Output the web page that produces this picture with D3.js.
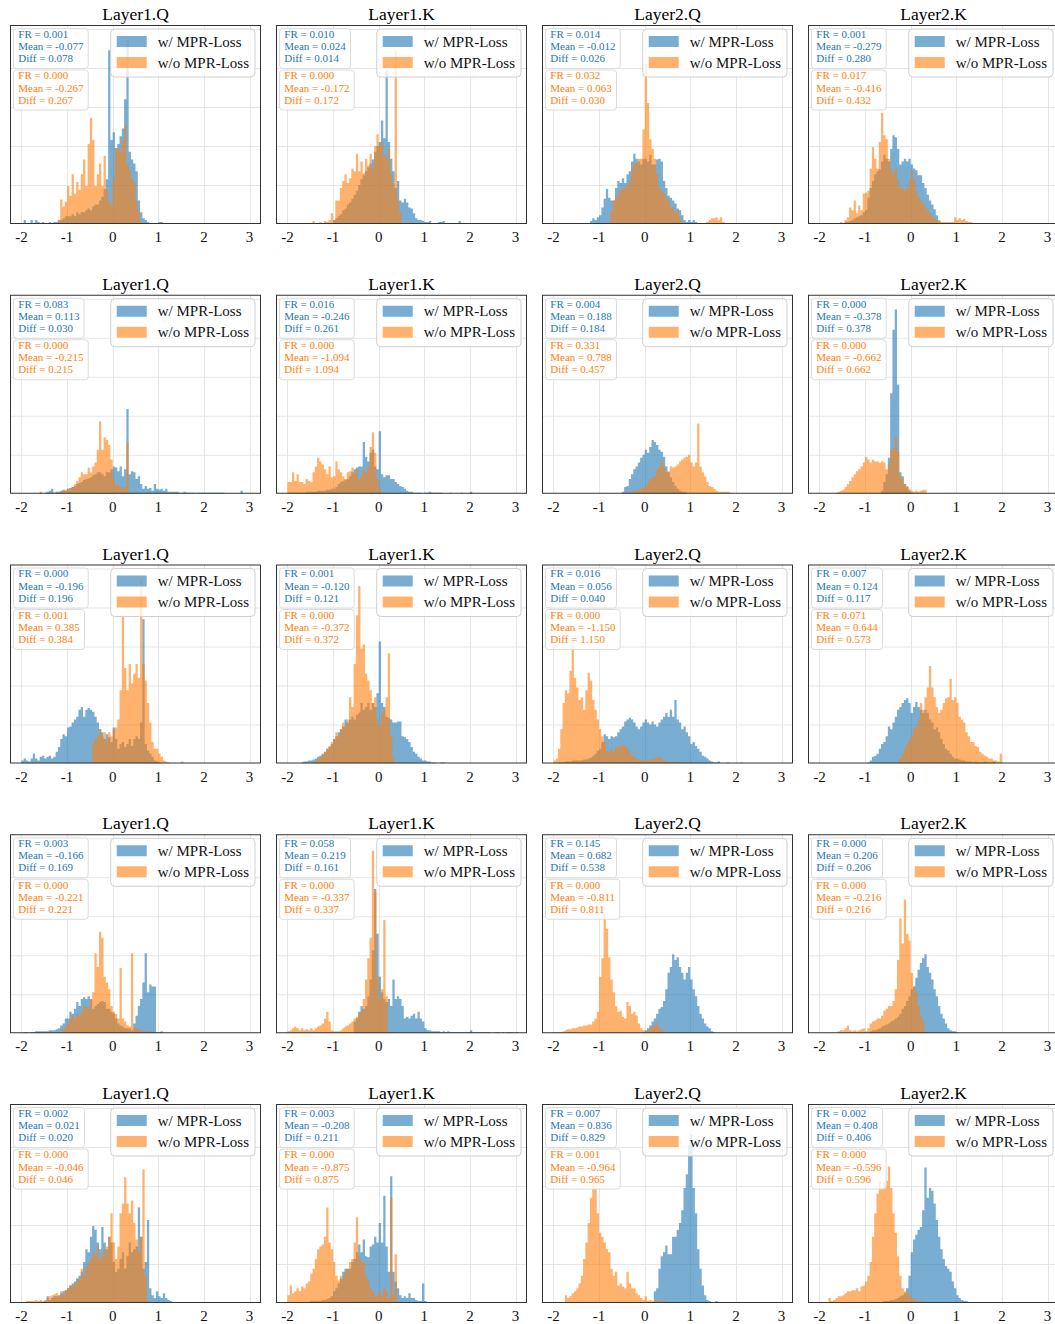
<!DOCTYPE html>
<html>
<head>
<meta charset="utf-8">
<script src="https://cdn.jsdelivr.net/npm/d3@7"></script>
<style>
  body { margin: 0; background: #ffffff; }
  svg text { font-family: "Liberation Serif", "Times New Roman", serif; }
</style>
</head>
<body>
<svg id="chart" width="1055" height="1324"></svg>
<script>
// ---- data -------------------------------------------------------------
const panelTitles = [
  "Layer1.Q", "Layer1.K", "Layer2.Q", "Layer2.K",
  "Layer1.Q", "Layer1.K", "Layer2.Q", "Layer2.K",
  "Layer1.Q", "Layer1.K", "Layer2.Q", "Layer2.K",
  "Layer1.Q", "Layer1.K", "Layer2.Q", "Layer2.K",
  "Layer1.Q", "Layer1.K", "Layer2.Q", "Layer2.K"
];
const seriesLabels = ["w/ MPR-Loss", "w/o MPR-Loss"];
const xTicks = [-2, -1, 0, 1, 2, 3];
const yTicks = [40, 80, 120, 160, 200];
const yMax = 204;          // shared count axis for every panel
const binWidth = 0.05;

// left edge of the first bin of each histogram
const withStart = [-1.95, -1.0, -1.2, -1.45, -1.6, -2.0, -0.5, -0.65, -2.0, -1.7, -1.9, -0.95, -1.95, -0.55, -0.05, -0.9, -1.5, -1.9, 0.2, -0.6];
const withoutStart = [-1.2, -1.45, -0.75, -1.55, -1.6, -2.0, -0.35, -1.65, -0.45, -1.4, -2.0, -0.3, -1.1, -2.0, -2.0, -1.6, -2.0, -2.0, -1.75, -1.8];

// bin counts, "w/ MPR-Loss"
const withCounts = [
  [4,0,0,4,0,4,2,0,2,0, 0,2,0,2,2,4,4,6,8,8, 8,10,8,12,10,12,12,14,16,14, 18,20,20,24,28,36,46,178,86,94, 78,82,90,98,128,189,74,66,62,54, 24,12,6,4,2,0,0,0,0,2, 2],
  [4,6,8,10,14,16,20,22,26,30, 34,40,46,50,54,58,62,66,74,80, 84,106,88,157,84,67,54,37,44,24, 22,26,22,17,16,11,6,4,4,3, 2,2,3,1,1,1,2,2,3,0, 0,1,0,0,0,3],
  [3,6,4,7,9,17,26,36,27,24, 24,37,44,42,47,42,51,54,64,72, 67,64,61,67,67,64,71,61,61,66, 67,64,44,37,29,27,24,21,16,14, 9,4,2,4,2,4,2,1,1,1, 0,1,0,0,1,0,0,0,1,0, 0,0,0,0,0,1,0,0,0,0, 0,0,0,0,0,0,1],
  [2,2,3,4,6,7,8,9,12,14, 27,37,44,51,54,56,64,71,67,64, 77,91,89,77,61,64,67,64,67,61, 57,55,50,50,42,37,30,24,20,15, 9,3,1],
  [1,0,1,2,3,5,1,2,2,3, 4,3,5,6,7,8,10,11,12,14, 15,16,17,19,20,22,22,20,18,22, 22,25,28,27,23,28,18,25,87,20, 23,22,15,18,10,5,8,5,6,3, 10,5,4,5,3,5,2,2,2,2, 2,1,1,2,1,1,1,1,0,1, 1,1,1,1,1,1,1,1,1,1, 1,0,0,0,0,0,0,0,3],
  [1,1,1,1,1,1,1,1,2,2, 2,2,2,3,3,3,3,4,4,5, 5,7,10,12,13,14,15,18,22,25, 27,28,28,53,38,33,42,45,28,25, 64,20,17,19,19,15,15,12,10,8, 7,5,3,2,2,1,1,1,1,0, 1,1,2,1,1,1,1,1,0,0, 0,1,0,0,0,0,1,0,0,0, 2],
  [2,7,8,15,20,25,28,32,37,40, 45,42,48,55,53,50,45,43,38,28, 22,17,12,8,5,3,2,2,1],
  [3,12,20,37,103,168,189,112,22,18,10,7,3,1],
  [3,5,3,2,5,10,5,3,7,8, 5,7,8,5,7,12,17,25,30,28, 37,38,42,45,48,55,58,48,55,57, 55,53,48,42,35,32,25,30,27,22, 37,25,15,20,22,17,20,25,18,25, 28,25,42,148,20,13,10,7,3,2, 1],
  [1,2,2,3,3,4,5,7,8,10, 12,15,17,20,25,28,32,35,38,45, 42,45,48,45,50,52,62,55,58,62, 55,62,58,72,125,62,58,48,47,45, 42,42,43,43,28,27,25,22,17,12, 10,7,5,3,3,2,2,1,1,0, 0,1,1],
  [1,1,1,2,2,2,3,3,3,3, 3,4,4,5,6,8,10,13,15,22, 30,28,25,28,27,28,32,35,38,43, 45,47,45,42,38,35,38,42,45,42, 40,43,40,38,42,45,48,52,48,55, 48,65,45,42,35,38,32,28,20,22, 18,15,12,8,7,5,3,2,1,1, 2,0,0,0,1,0,0,0,0,0, 1],
  [1,3,7,8,10,15,20,22,28,38, 35,42,48,55,58,62,65,67,62,52, 58,63,58,55,52,55,52,45,42,35, 37,32,25,20,15,13,10,7,5,5, 4,3,3,2,2,2,1,2,1,1, 1,2,1,1,1,2],
  [1,1,0,1,1,2,2,2,2,2, 2,3,3,3,4,5,8,10,15,15, 22,20,25,32,28,35,37,35,38,35, 25,28,30,32,33,32,25,25,22,20, 15,10,8,7,5,5,5,3,10,18, 28,35,52,82,42,50,48,48,1,1, 2],
  [12,15,22,28,25,28,38,55,85,148, 102,58,42,35,32,35,28,55,35,38, 35,28,15,17,15,18,20,15,22,15, 12,5,3,3,2,2,2,2,1,2, 1,2,1,1,1,1,1,1,1,1, 1,3,1,1,1,1,1,1,1,1, 0,0,1,1,0,1,0,1,1,1, 0,1],
  [1,3,5,8,12,15,20,25,27,33, 45,62,68,81,75,78,68,62,55,62, 68,55,45,38,28,20,15,10,7,5, 2,1],
  [2,3,3,4,5,7,8,9,10,12, 13,15,17,20,25,28,33,38,45,48, 57,65,72,77,81,68,62,55,45,38, 28,20,15,10,5,3,2,2,1],
  [2,7,3,5,7,7,8,10,12,13, 15,18,20,22,25,28,32,42,55,52, 68,79,75,62,55,78,62,55,68,62, 42,32,35,45,52,35,48,62,52,55, 58,98,68,35,42,85,15,8,5,12, 7,5,10,5,3,2,1,1],
  [1,0,1,1,1,1,1,1,2,2, 2,2,2,3,3,4,5,7,12,15, 20,25,32,35,35,35,42,45,52,60, 52,65,48,47,58,60,68,62,82,62, 110,58,32,130,32,22,15,8,5,7, 5,10,5,5,3,2,2,20,2,1, 1,1,1,1,1,0,0,0,0,1, 0,0,0,1,1],
  [12,15,35,48,52,59,50,50,68,68, 75,82,95,118,132,162,173,118,92,55, 35,18,8,3,2,0,1,2],
  [2,2,2,3,3,4,5,7,8,10, 15,28,52,65,70,75,78,95,139,108, 118,115,102,85,68,55,45,38,35,32, 22,15,8,5,3,2,2,1,1,0, 0,0,0,0,0,0,0,1]
];

// bin counts, "w/o MPR-Loss"
const withoutCounts = [
  [4,25,18,23,39,29,51,31,43,35, 51,66,39,82,109,86,39,51,62,39, 70,35,23,20,47,78,78,74,86,101, 62,55,47,43,23,12,2],
  [3,0,0,2,0,3,2,4,11,4, 24,24,37,44,51,42,47,57,54,72, 54,64,52,67,60,72,57,80,92,80, 84,70,67,77,51,41,178,24,11,1],
  [13,24,27,31,34,37,37,39,44,56, 62,62,67,67,97,164,124,87,77,67, 51,37,34,31,27,24,17,17,11,14, 7,2,1,1,0,0,1,0,0,0, 1,1,2,4,6,6,7,4,7,2, 0,1,1,1,1,1,0,1],
  [2,0,4,7,17,14,24,11,19,14, 31,32,34,57,79,67,57,84,114,91, 87,67,57,51,57,44,37,37,34,37, 44,54,44,34,27,24,21,17,14,11, 7,6,4,4,2,2,2,2,2,2, 7,4,6,4,5,3,2,2,1,0, 0,0,1,1,1,1,1],
  [2,0,0,0,1,0,1,1,2,2, 3,4,5,6,7,10,13,17,22,20, 20,27,22,28,32,45,74,45,58,55, 50,35,15,10,8,7,5,7,52],
  [12,12,22,13,20,12,12,10,15,13, 12,22,28,37,33,30,25,20,28,17, 18,33,25,22,18,15,22,23,27,20, 25,15,18,25,22,28,48,63,42,15, 5],
  [1,2,3,3,4,5,6,8,12,15, 17,18,25,28,33,28,22,23,28,27, 28,30,33,35,37,38,40,32,28,32, 72,28,22,18,12,8,7,5,3,2, 2,2,2,2,1],
  [1,2,3,4,7,10,13,17,20,23, 25,28,32,38,35,32,35,33,33,32, 33,32,25,30,45,47,58,43,18,15, 10,8,5,3,2,3,2,3,4,4],
  [20,25,28,35,28,32,23,32,28,35, 37,45,75,152,98,75,102,82,92,102, 88,188,102,85,62,42,22,15,15,10, 7,3,2,1,0,0,0,0,0,2],
  [2,5,7,9,12,15,18,22,25,32, 28,35,42,38,45,68,58,102,152,182, 118,122,92,85,75,62,68,45,38,52, 55,68,113,28,5],
  [3,5,15,35,62,75,72,95,122,88, 78,65,68,55,75,93,85,65,55,45, 35,28,22,13,12,15,12,17,17,18, 20,18,15,12,8,7,5,4,3,3, 3,4,3,4,5,6,7,5,3,2, 2,1,2,1,1,1,1,1,1,1, 1],
  [2,5,10,15,20,25,28,35,38,45, 62,55,68,78,100,78,68,58,52,55, 62,67,68,87,65,68,62,48,45,42, 32,28,22,22,18,17,12,10,8,7, 5,5,3,3,2,10],
  [5,7,10,15,18,15,20,18,22,28, 27,25,35,42,82,68,104,98,58,52, 45,28,22,20,15,67,15,12,8,7, 82,5,5,4,3,2,2,2,2,2],
  [2,3,5,7,5,3,5,3,4,3, 5,3,5,7,8,10,15,22,12,3, 2,2,2,3,5,7,8,10,12,15, 17,20,22,35,55,77,98,187,145,58, 35,45,116,38],
  [1,1,1,1,2,3,4,4,5,5, 6,7,7,8,8,9,9,12,15,22, 58,77,122,107,78,55,42,28,22,23, 17,15,32,28,20,22,18,10,5,3, 2,3,5,7,8,10,6,3,2],
  [2,3,3,5,8,3,2,3,2,3, 4,5,2,5,10,12,13,15,15,18, 23,25,28,28,33,45,75,118,92,137, 102,95,62,48,42,28,18,12,2],
  [1,1,2,2,2,2,3,2,3,2, 3,5,7,8,9,10,7,12,8,13, 15,18,17,20,25,22,35,28,37,42, 45,52,48,58,45,48,55,58,68,92, 62,45,58,92,102,129,102,92,105,82, 65,52,68,137,28,2],
  [8,18,10,12,15,12,17,15,20,22, 30,35,45,55,58,60,68,98,62,55, 42,28,23,28,25,32,35,42,45,62, 88,48,42,42,28,22,15,12,8,7, 12,8,15,12,5,108,8,50],
  [8,5,7,10,12,15,20,28,45,62, 82,108,123,117,92,72,68,62,55,52, 35,28,32,18,20,17,15,32,20,15, 15,10,8,5,3,7,2,3,2,3, 2,2,2,2,2,1,0,0,0,0, 0,0,0,0,0,0,0,0,0,0, 0,0,0,0,0,0,0,0,0,1],
  [5,2,3,5,7,7,8,10,12,12, 13,13,15,12,17,18,22,28,42,68, 92,112,125,118,123,125,140,118,92,72, 48,28,15,12,12,8,5,3,2,2, 2,2,1]
];

// [FR, Mean, Diff] for each panel
const withStats = [
  [0.001, -0.077, 0.078], [0.010, 0.024, 0.014], [0.014, -0.012, 0.026], [0.001, -0.279, 0.280],
  [0.083, 0.113, 0.030], [0.016, -0.246, 0.261], [0.004, 0.188, 0.184], [0.000, -0.378, 0.378],
  [0.000, -0.196, 0.196], [0.001, -0.120, 0.121], [0.016, 0.056, 0.040], [0.007, 0.124, 0.117],
  [0.003, -0.166, 0.169], [0.058, 0.219, 0.161], [0.145, 0.682, 0.538], [0.000, 0.206, 0.206],
  [0.002, 0.021, 0.020], [0.003, -0.208, 0.211], [0.007, 0.836, 0.829], [0.002, 0.408, 0.406]
];
const withoutStats = [
  [0.000, -0.267, 0.267], [0.000, -0.172, 0.172], [0.032, 0.063, 0.030], [0.017, -0.416, 0.432],
  [0.000, -0.215, 0.215], [0.000, -1.094, 1.094], [0.331, 0.788, 0.457], [0.000, -0.662, 0.662],
  [0.001, 0.385, 0.384], [0.000, -0.372, 0.372], [0.000, -1.150, 1.150], [0.071, 0.644, 0.573],
  [0.000, -0.221, 0.221], [0.000, -0.337, 0.337], [0.000, -0.811, 0.811], [0.000, -0.216, 0.216],
  [0.000, -0.046, 0.046], [0.000, -0.875, 0.875], [0.001, -0.964, 0.965], [0.000, -0.596, 0.596]
];

// ---- layout & style ------------------------------------------------------
const nCols = 4;
const axLeft0 = 10, colStep = 266, axW = 251;
const axTop0 = 25, rowStep = 269.75, axH = 199;
const colors = ["#1f77b4", "#ff7f0e"];
const barAlpha = 0.6;

const svg = d3.select("#chart");
const x = d3.scaleLinear().domain([-2.25, 3.25]).range([0, axW]);
const y = d3.scaleLinear().domain([0, yMax]).range([axH, 0]);
const fmt = v => v.toFixed(3);

const area = d3.area()
  .x(d => x(d.x0))
  .y0(axH)
  .y1(d => y(d.v))
  .curve(d3.curveStepAfter);

panelTitles.forEach((title, i) => {
  const r = Math.floor(i / nCols), c = i % nCols;
  const g = svg.append("g")
    .attr("transform", `translate(${axLeft0 + c * colStep},${axTop0 + r * rowStep})`);

  const series = [
    { start: withStart[i], counts: withCounts[i], stats: withStats[i], color: colors[0] },
    { start: withoutStart[i], counts: withoutCounts[i], stats: withoutStats[i], color: colors[1] }
  ];

  // clip region for the plotting area
  const clipId = `clip-${i}`;
  g.append("clipPath").attr("id", clipId)
    .append("rect").attr("width", axW).attr("height", axH);

  // grid
  const grid = g.append("g").attr("stroke", "#e6e6e6").attr("stroke-width", 1);
  grid.selectAll("line.v").data(xTicks).join("line")
    .attr("class", "v")
    .attr("x1", d => Math.round(x(d)) + 0.5).attr("x2", d => Math.round(x(d)) + 0.5)
    .attr("y1", 0).attr("y2", axH);
  grid.selectAll("line.h").data(yTicks).join("line")
    .attr("class", "h")
    .attr("x1", 0).attr("x2", axW)
    .attr("y1", d => Math.round(y(d)) + 0.5).attr("y2", d => Math.round(y(d)) + 0.5);

  // histograms (blue first, orange on top)
  const plot = g.append("g").attr("clip-path", `url(#${clipId})`);
  series.forEach(s => {
    const pts = s.counts.map((v, k) => ({ x0: s.start + k * binWidth, v }));
    pts.push({ x0: s.start + s.counts.length * binWidth, v: 0 });
    plot.append("path")
      .attr("d", area(pts))
      .attr("fill", s.color)
      .attr("fill-opacity", barAlpha);
  });

  // frame
  g.append("rect")
    .attr("x", 0.5).attr("y", 0.5).attr("width", axW - 1).attr("height", axH - 1)
    .attr("fill", "none").attr("stroke", "#333").attr("stroke-width", 1);

  // x tick labels
  g.selectAll("text.tick").data(xTicks).join("text")
    .attr("class", "tick")
    .attr("x", d => x(d)).attr("y", axH + 18)
    .attr("text-anchor", "middle")
    .attr("font-size", 15).attr("fill", "#111")
    .text(d => String(d));

  // title
  g.append("text")
    .attr("x", axW / 2).attr("y", -5)
    .attr("text-anchor", "middle")
    .attr("font-size", 17.5).attr("fill", "#000")
    .text(title);

  // statistics boxes
  series.forEach((s, j) => {
    const bx = 3.5, by = 3.5 + j * 41.5;
    const box = g.append("g");
    const rect = box.append("rect")
      .attr("x", bx).attr("y", by).attr("height", 40).attr("rx", 3)
      .attr("fill", "#fff").attr("fill-opacity", 0.8)
      .attr("stroke", "#dcdcdc").attr("stroke-width", 1);
    const lines = [`FR = ${fmt(s.stats[0])}`, `Mean = ${fmt(s.stats[1])}`, `Diff = ${fmt(s.stats[2])}`];
    let maxLen = 0;
    lines.forEach((t, k) => {
      const tx = box.append("text")
        .attr("x", bx + 4.8).attr("y", by + 9.3 + k * 12.2)
        .attr("font-size", 11).attr("fill", s.color)
        .text(t);
      maxLen = Math.max(maxLen, tx.node().getComputedTextLength());
    });
    rect.attr("width", maxLen + 9.5);
  });

  // legend
  const leg = g.append("g");
  const legRect = leg.append("rect")
    .attr("y", 4).attr("height", 48).attr("rx", 4)
    .attr("fill", "#fff").attr("fill-opacity", 0.8)
    .attr("stroke", "#d0d0d0").attr("stroke-width", 1);
  const labels = seriesLabels.map((lab, j) => leg.append("text")
    .attr("y", 16.5 + j * 21 + 5)
    .attr("font-size", 15).attr("fill", "#111")
    .text(lab));
  const textW = d3.max(labels, t => t.node().getComputedTextLength());
  const legW = 6 + 30 + 11 + textW + 6;
  const legX = axW - 6 - legW;
  legRect.attr("x", legX).attr("width", legW);
  labels.forEach(t => t.attr("x", legX + 47));
  seriesLabels.forEach((lab, j) => {
    leg.append("rect")
      .attr("x", legX + 6).attr("y", 16.5 + j * 21 - 5.5)
      .attr("width", 30).attr("height", 11)
      .attr("fill", colors[j]).attr("fill-opacity", barAlpha);
  });
});
</script>
</body>
</html>
